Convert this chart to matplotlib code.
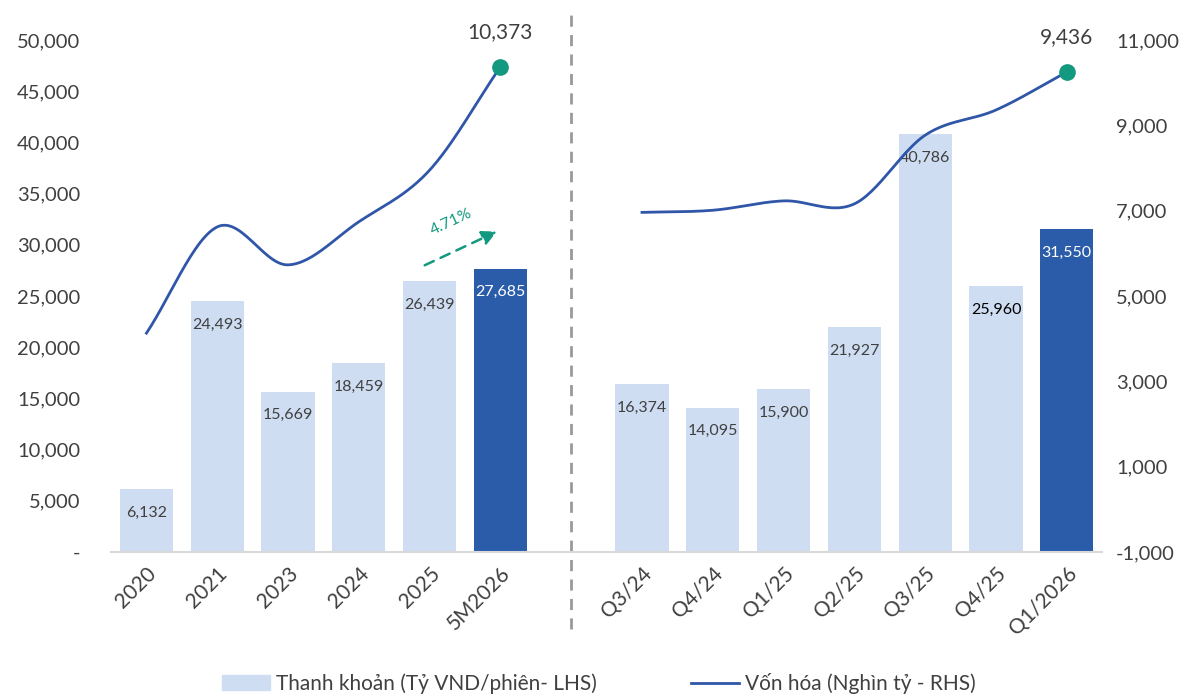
import numpy as np
import matplotlib.pyplot as plt
from matplotlib.patches import Patch
from matplotlib.lines import Line2D
import matplotlib.transforms as mtransforms

plt.rcParams['font.family'] = ['Lato', 'DejaVu Sans']

# data
years = ['2020', '2021', '2023', '2024', '2025', '5M2026']
quarters = ['Q3/24', 'Q4/24', 'Q1/25', 'Q2/25', 'Q3/25', 'Q4/25', 'Q1/2026']
liq_years = [6132, 24493, 15669, 18459, 26439, 27685]
liq_quarters = [16374, 14095, 15900, 21927, 40786, 25960, 31550]
cap_years = [4130, 6620, 5730, 6740, 7950, 10373]
cap_quarters = [6960, 7010, 7230, 7160, 8770, 9360, 10250]
cap_end_labels = ['10,373', '9,436']
growth_label = '4.71%'

light = '#CFDDF2'
dark = '#2A5CAA'
line_c = '#2F56A8'
green = '#12997F'
txt = '#404040'

x_years = np.arange(len(years))
x_quarters = np.arange(len(quarters)) + len(years) + 1
gap_x = len(years)


def smooth(x, y, n=30):
    # catmull-rom curve through the points (like excel's smoothed line)
    x = np.asarray(x, float)
    y = np.asarray(y, float)
    px = np.concatenate([[2 * x[0] - x[1]], x, [2 * x[-1] - x[-2]]])
    py = np.concatenate([[2 * y[0] - y[1]], y, [2 * y[-1] - y[-2]]])
    xs, ys = [], []
    t = np.linspace(0, 1, n)
    for i in range(1, len(px) - 2):
        for p, out in ((px, xs), (py, ys)):
            p0, p1, p2, p3 = p[i - 1], p[i], p[i + 1], p[i + 2]
            out.extend(0.5 * (2 * p1 + (-p0 + p2) * t + (2 * p0 - 5 * p1 + 4 * p2 - p3) * t ** 2
                              + (-p0 + 3 * p1 - 3 * p2 + p3) * t ** 3))
    return np.array(xs), np.array(ys)


fig = plt.figure(figsize=(11.98, 6.96), dpi=100)
ax = fig.add_axes([0.0927, 0.2069, 0.8273, 0.7356])
ax2 = ax.twinx()

w = 0.75
cols_y = [light] * (len(years) - 1) + [dark]
cols_q = [light] * (len(quarters) - 1) + [dark]
ax.bar(x_years, liq_years, width=w, color=cols_y)
ax.bar(x_quarters, liq_quarters, width=w, color=cols_q)

for xs_, vals, cols in ((x_years, liq_years, cols_y), (x_quarters, liq_quarters, cols_q)):
    for xi, v, c in zip(xs_, vals, cols):
        tc = 'white' if c == dark else txt
        if v == 25960:
            tc = 'black'
        ax.annotate(f'{v:,}', (xi, v), xytext=(0, -17), textcoords='offset points',
                    ha='center', va='center', fontsize=11.5, color=tc)

ax.set_xlim(-0.5, len(years) + len(quarters) + 0.5)
ax.set_ylim(0, 50000)
ax.set_yticks(np.arange(0, 50001, 5000))
ax.set_yticklabels(['-'] + [f'{v:,}' for v in range(5000, 50001, 5000)])
ax2.set_ylim(-1000, 11000)
ax2.set_yticks(np.arange(-1000, 11001, 2000))
ax2.set_yticklabels([f'{v:,}' for v in range(-1000, 11001, 2000)])

ax.set_xticks(list(x_years) + list(x_quarters))
ax.set_xticklabels(years + quarters, rotation=45, ha='right', rotation_mode='anchor')

for a in (ax, ax2):
    for s in a.spines.values():
        s.set_visible(False)
    a.tick_params(length=0, labelsize=14.5, colors=txt)
ax.tick_params(axis='y', pad=22)
ax2.tick_params(axis='y', pad=10)
ax.tick_params(axis='x', pad=8, labelsize=15)
ax.spines['bottom'].set_visible(True)
ax.spines['bottom'].set_color('#D9D9D9')
ax.spines['bottom'].set_linewidth(1.5)

# market cap lines
for xs_, vals, lab in ((x_years, cap_years, cap_end_labels[0]), (x_quarters, cap_quarters, cap_end_labels[1])):
    sx, sy = smooth(xs_, vals)
    ax2.plot(sx, sy, color=line_c, lw=2)
    ax2.plot(xs_[-1], vals[-1], 'o', color=green, ms=11, zorder=5)
    ax2.annotate(lab, (xs_[-1], vals[-1]), xytext=(0, 25), textcoords='offset points',
                 ha='center', va='center', fontsize=15, color=txt)

# divider
trans = mtransforms.blended_transform_factory(ax.transData, ax.transAxes)
ax.plot([gap_x, gap_x], [-0.15, 1.06], transform=trans, color='#999999', lw=2,
        ls=(0, (4, 3)), clip_on=False)

# growth arrow
ax.annotate('', xy=(4.95, 31300), xytext=(3.93, 28000),
            arrowprops=dict(arrowstyle='-|>', color=green, lw=1.8, ls=(0, (4, 3)),
                            mutation_scale=22, shrinkA=0, shrinkB=0))
ax.text(4.3, 32200, growth_label, color=green, fontsize=11.5, rotation=25,
        ha='center', va='center')

handles = [Patch(color=light), Line2D([], [], color=line_c, lw=2)]
fig.legend(handles, ['Thanh khoản (Tỷ VND/phiên- LHS)', 'Vốn hóa (Nghìn tỷ - RHS)'],
           loc='center', bbox_to_anchor=(0.5, 0.018), ncol=2, frameon=False,
           fontsize=15, columnspacing=4.5, handlelength=2.3, handletextpad=0.3,
           labelcolor=txt)

fig.savefig('out.png', dpi=100)
